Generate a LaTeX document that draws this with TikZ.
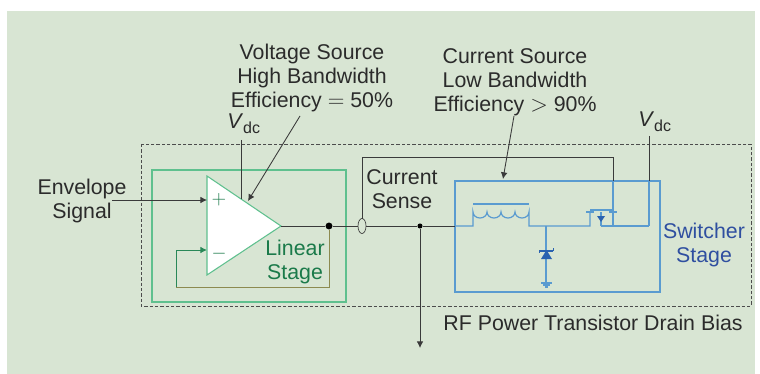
\documentclass[tikz,border=0pt]{standalone}
\usepackage{fontspec}
\setmainfont{Liberation Sans}
\usetikzlibrary{arrows.meta}
\definecolor{panel}{HTML}{D8E5D3}
\definecolor{lgreen}{HTML}{5FC08E}
\definecolor{tgreen}{HTML}{1B7A4A}
\definecolor{olive}{HTML}{8C8A50}
\definecolor{lblue}{HTML}{5A9BD0}
\definecolor{tblue}{HTML}{2F4FA0}
\definecolor{dblue}{HTML}{2A62B0}
\definecolor{wire}{HTML}{3A3A3A}
\definecolor{ink}{HTML}{2B2B2B}
\tikzset{
 x=0.75pt,y=-0.75pt,
 lbl/.style={font=\fontsize{16pt}{18pt}\selectfont,inner sep=0pt,align=center,text=ink},
 sgn/.style={text=tgreen,inner sep=0pt,font=\fontsize{15pt}{15pt}\selectfont},
 wirel/.style={draw=wire,line width=0.65pt},
 arr/.style={wirel,-{Latex[length=5pt,width=5pt]}},
 gbox/.style={draw=lgreen,line width=0.85pt},
 bwire/.style={draw=lblue,line width=0.9pt},
 jdot/.style={circle,fill=black,inner sep=0pt},
}
\begin{document}
\begin{tikzpicture}
\useasboundingbox (0,0) rectangle (760,374);
\fill[white] (0,0) rectangle (760,374);
\fill[panel] (7,11) rectangle (755,374);
% outer dashed
\draw[black!70,line width=0.55pt,dash pattern=on 2.4pt off 1.6pt] (141,144) rectangle (751,306);
% stage boxes
\draw[gbox] (152,170) rectangle (346,302);
\draw[bwire] (455,181) rectangle (660,292);
% named points
\coordinate (out) at (281,226);
\node[jdot,minimum size=5.2pt] (j1) at (329,226) {};
\node[jdot,minimum size=3.8pt] (j2) at (420,226) {};
\coordinate (sw) at (455,226);
\coordinate (fb1) at (329,287);
\coordinate (fb2) at (176,287);
\coordinate (fb3) at (176,250);
\coordinate (inm) at (207,250);
\coordinate (inp) at (207,200);
\coordinate (envs) at (112,200);
\coordinate (sn0) at (362,219);
\coordinate (sn1) at (362,157);
\coordinate (sn2) at (613,157);
\coordinate (sn3) at (613,181);
\coordinate (gate) at (613,210);
\coordinate (vdA) at (241,140);
\coordinate (vdAe) at (241,199);
\coordinate (vdB) at (649,136);
\coordinate (vdBm) at (649,181);
\coordinate (vdBe) at (649,226);
\coordinate (rfe) at (420,348);
\coordinate (vsA) at (300,116);
\coordinate (vsB) at (248,201);
\coordinate (csA) at (514,116);
\coordinate (csB) at (503,179);
% feedback
\draw[draw=olive,line width=0.6pt] (j1) -- (fb1) -- (fb2);
\draw[draw=tgreen!80!lgreen,line width=0.7pt,-{Latex[length=5pt,width=5pt]}] (fb2) -- (fb3) -- (inm);
% opamp
\draw[lgreen,fill=white,line width=0.8pt] (207,176) -- (out) -- (207,275) -- cycle;
\draw[wirel] (out) -- (j1) -- (j2) -- (sw);
\draw[wire,fill=panel,line width=0.5pt] (362,226) ellipse (4 and 7.5);
\node[sgn] (plus) at (219,200) {$+$};
\node[sgn] (minus) at (219,254) {$-$};
% sense wire
\draw[wirel] (sn0) -- (sn1) -- (sn2) -- (sn3);
\draw[bwire] (sn3) -- (gate);
% texts
\node[lbl] (t1) at (312,78) {Voltage Source\\High Bandwidth\\Efficiency $=$ 50\%};
\node[lbl] (t2) at (515,82) {Current Source\\Low Bandwidth\\Efficiency $>$ 90\%};
\node[lbl] (env) at (82,201) {Envelope\\Signal};
\node[lbl] (cs) at (402,189) {Current\\Sense};
\node[lbl,text=tgreen] (ls) at (295,262) {Linear\\Stage};
\node[lbl,text=tblue] (ss) at (704,245) {Switcher\\Stage};
\node[lbl] (rf) at (593,323) {RF Power Transistor Drain Bias};
\node[lbl,anchor=west] (v1) at (227,124) {\textit{V}\raisebox{-3.5pt}{\fontsize{12pt}{12pt}\selectfont dc}};
\node[lbl,anchor=west] (v2) at (638,122) {\textit{V}\raisebox{-3.5pt}{\fontsize{12pt}{12pt}\selectfont dc}};
% arrows
\draw[arr] (envs) -- (inp);
\draw[wirel] (vdA) -- (vdAe);
\draw[arr] (vsA) -- (vsB);
\draw[arr] (csA) -- (csB);
\draw[arr] (j2) -- (rfe);
\draw[wirel] (vdB) -- (vdBm);
\draw[bwire] (vdBm) -- (vdBe);
% switcher circuit
\draw[bwire] (sw) -- (473,226) -- (473,212) arc (180:0:7 and 6) arc (180:0:7 and 6) arc (180:0:7 and 6) arc (180:0:7 and 6) -- (529,226) -- (590,226) -- (590,212);
\draw[bwire] (473,204) -- (529,204);
\draw[bwire] (586,212) -- (594,212);
\draw[bwire,line width=1.1pt] (590,210) -- (gate);
\draw[bwire] (601,226) -- (601,212);
\draw[bwire] (613,226) -- (gate);
\draw[bwire] (609,212) -- (617,212);
\draw[bwire] (601,226) -- (vdBe);
\fill[dblue] (597,216) -- (605,216) -- (601,222) -- cycle;
\draw[bwire] (546,226) -- (546,283);
\fill[dblue] (541,259) -- (552,259) -- (546.5,250) -- cycle;
\draw[dblue,line width=0.8pt] (539,251) -- (553,251);
\draw[dblue,line width=0.6pt] (539,251) -- (539,253) (553,251) -- (553,248);
\draw[bwire] (541,283) -- (552,283) (543,285) -- (550,285) (545,287) -- (548,287);
\end{tikzpicture}
\end{document}
